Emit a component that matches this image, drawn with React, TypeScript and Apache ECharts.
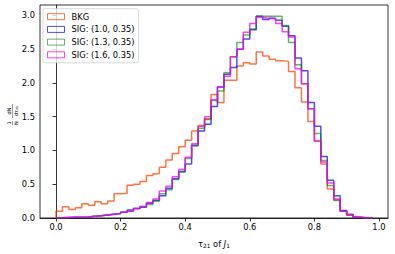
import React, { useEffect, useRef } from "react";
import * as echarts from "echarts";

const BIN_WIDTH = 0.02;
const seriesNames = ["BKG", "SIG: (1.0, 0.35)", "SIG: (1.3, 0.35)", "SIG: (1.6, 0.35)"];
const seriesColors = ["#ff4500", "#0000ff", "#008000", "#ff00ff"];

const bkg = [0.10, 0.165, 0.126, 0.15, 0.21, 0.19, 0.24, 0.21, 0.25, 0.36, 0.365, 0.485, 0.50, 0.54, 0.63, 0.655, 0.75, 0.86, 0.955, 1.057, 1.15, 1.29, 1.37, 1.47, 1.83, 1.71, 2.04, 2.04, 2.25, 2.30, 2.28, 2.46, 2.40, 2.35, 2.33, 2.32, 2.17, 1.93, 1.72, 1.43, 1.14, 0.80, 0.43, 0.27, 0.10, 0.04, 0.01, 0.005, 0.003];
const sig10 = [0.003, 0.008, 0.010, 0.012, 0.015, 0.025, 0.035, 0.045, 0.055, 0.065, 0.085, 0.12, 0.14, 0.16, 0.22, 0.26, 0.33, 0.44, 0.58, 0.69, 0.80, 1.07, 1.29, 1.39, 1.65, 1.94, 2.13, 2.23, 2.50, 2.65, 2.79, 2.99, 2.94, 2.96, 2.93, 2.84, 2.70, 2.37, 2.18, 1.71, 1.36, 0.91, 0.56, 0.33, 0.11, 0.05, 0.01, 0.005, 0.002];
const sig13 = [0.003, 0.008, 0.010, 0.012, 0.015, 0.025, 0.035, 0.045, 0.055, 0.065, 0.085, 0.10, 0.14, 0.17, 0.20, 0.25, 0.36, 0.42, 0.57, 0.68, 0.88, 1.08, 1.33, 1.46, 1.74, 1.88, 2.15, 2.39, 2.60, 2.71, 2.80, 2.99, 2.99, 2.99, 2.99, 2.85, 2.60, 2.27, 1.99, 1.62, 1.25, 0.85, 0.48, 0.26, 0.10, 0.05, 0.01, 0.005, 0.002];
const sig16 = [0.003, 0.008, 0.010, 0.012, 0.015, 0.025, 0.035, 0.045, 0.055, 0.065, 0.085, 0.10, 0.14, 0.17, 0.23, 0.28, 0.40, 0.47, 0.61, 0.72, 0.90, 1.10, 1.36, 1.50, 1.75, 1.94, 2.10, 2.39, 2.50, 2.75, 2.88, 2.97, 2.96, 2.95, 2.88, 2.76, 2.68, 2.21, 1.99, 1.62, 1.14, 0.83, 0.52, 0.28, 0.10, 0.05, 0.01, 0.005, 0.002];

const xTicks = [0, 0.2, 0.4, 0.6, 0.8, 1.0];
const yTicks = [0, 0.5, 1.0, 1.5, 2.0, 2.5, 3.0];

const FONT = "DejaVu Sans";

function toSteps(vals: number[]) {
  const n = vals.length;
  const pts: number[][] = [[0, 0]];
  vals.forEach((v, i) => pts.push([+(i * BIN_WIDTH).toFixed(4), v]));
  pts.push([+(n * BIN_WIDTH).toFixed(4), vals[n - 1]]);
  pts.push([+(n * BIN_WIDTH).toFixed(4), 0]);
  return pts;
}

export default function App() {
  const ref = useRef<HTMLDivElement>(null);
  useEffect(() => {
    document.body.style.margin = "0";
    const chart = echarts.init(ref.current!, null, { renderer: "svg" });
    const all = [bkg, sig10, sig13, sig16];
    const opacities = [0.75, 0.7, 0.6, 0.75];
    const option: any = {
      animation: false,
      grid: {
        left: 40, right: 7, top: 5, bottom: 32,
        show: true, borderColor: "#000", borderWidth: 0.8, backgroundColor: "transparent",
      },
      xAxis: {
        type: "value", min: -0.0495, max: 1.028,
        axisLine: { show: true, lineStyle: { color: "#000", width: 0.8 } },
        axisTick: { show: true, length: 3.5, lineStyle: { color: "#000", width: 0.8 }, customValues: xTicks },
        axisLabel: {
          customValues: xTicks, formatter: (v: number) => v.toFixed(1),
          fontFamily: FONT, fontSize: 8.3, color: "#000", margin: 5,
        },
        splitLine: { show: false },
        name: "{t|τ}{s|21}{t| of }{i|J}{s|1}",
        nameLocation: "middle", nameGap: 21,
        nameTextStyle: {
          rich: {
            t: { fontFamily: FONT, fontSize: 8.3, color: "#000" },
            i: { fontFamily: FONT, fontSize: 8.3, color: "#000", fontStyle: "italic" },
            s: { fontFamily: FONT, fontSize: 5.8, color: "#000", verticalAlign: "bottom", padding: [4, 0, 0, 0] },
          },
        },
      },
      yAxis: {
        type: "value", min: 0, max: 3.155,
        axisLine: { show: true, lineStyle: { color: "#000", width: 0.8 } },
        axisTick: { show: true, length: 3.5, lineStyle: { color: "#000", width: 0.8 }, customValues: yTicks },
        axisLabel: {
          customValues: yTicks, formatter: (v: number) => v.toFixed(1),
          fontFamily: FONT, fontSize: 8.3, color: "#000", margin: 5,
        },
        splitLine: { show: false },
      },
      legend: {
        left: 43, top: 8.7, orient: "vertical",
        padding: [3, 4, 3, 4], itemGap: 2.7, itemWidth: 17, itemHeight: 6,
        backgroundColor: "rgba(255,255,255,0.8)", borderColor: "#d0d0d0", borderWidth: 0.8, borderRadius: 2,
        textStyle: { fontFamily: FONT, fontSize: 8.3, color: "#000", lineHeight: 10, padding: [0, 0, 0, 2] },
        data: seriesNames.map((n, i) => ({
          name: n, icon: "rect",
          itemStyle: { color: "rgba(0,0,0,0)", borderColor: seriesColors[i], borderWidth: 1, opacity: opacities[i] },
        })),
      },
      series: all.map((vals, i) => ({
        name: seriesNames[i], type: "line", step: "end", showSymbol: false, symbol: "none",
        color: seriesColors[i],
        lineStyle: { color: seriesColors[i], width: 1.5, opacity: opacities[i] },
        data: toSteps(vals), z: 2 + i,
      })),
      graphic: [
        {
          type: "group", x: 12.5, y: 114, rotation: Math.PI / 2,
          children: [
            { type: "text", x: -9, y: -3.2, style: { text: "1", fontFamily: FONT, fontSize: 5, fill: "#000", align: "center", verticalAlign: "middle" } },
            { type: "line", shape: { x1: -11, y1: 0, x2: -7, y2: 0 }, style: { stroke: "#000", lineWidth: 0.4 } },
            { type: "text", x: -9, y: 3.2, style: { text: "N", fontFamily: FONT, fontSize: 5, fill: "#000", align: "center", verticalAlign: "middle" } },
            { type: "text", x: 3, y: -3.2, style: { text: "dN", fontFamily: FONT, fontSize: 5, fill: "#000", align: "center", verticalAlign: "middle" } },
            { type: "line", shape: { x1: -4, y1: 0, x2: 10, y2: 0 }, style: { stroke: "#000", lineWidth: 0.4 } },
            { type: "text", x: 3, y: 3.2, style: { text: "dτ₂₁", fontFamily: FONT, fontSize: 5, fill: "#000", align: "center", verticalAlign: "middle" } },
          ],
        },
      ],
    };
    chart.setOption(option);
    return () => chart.dispose();
  }, []);
  return <div ref={ref} style={{ width: 395, height: 254 }} />;
}
